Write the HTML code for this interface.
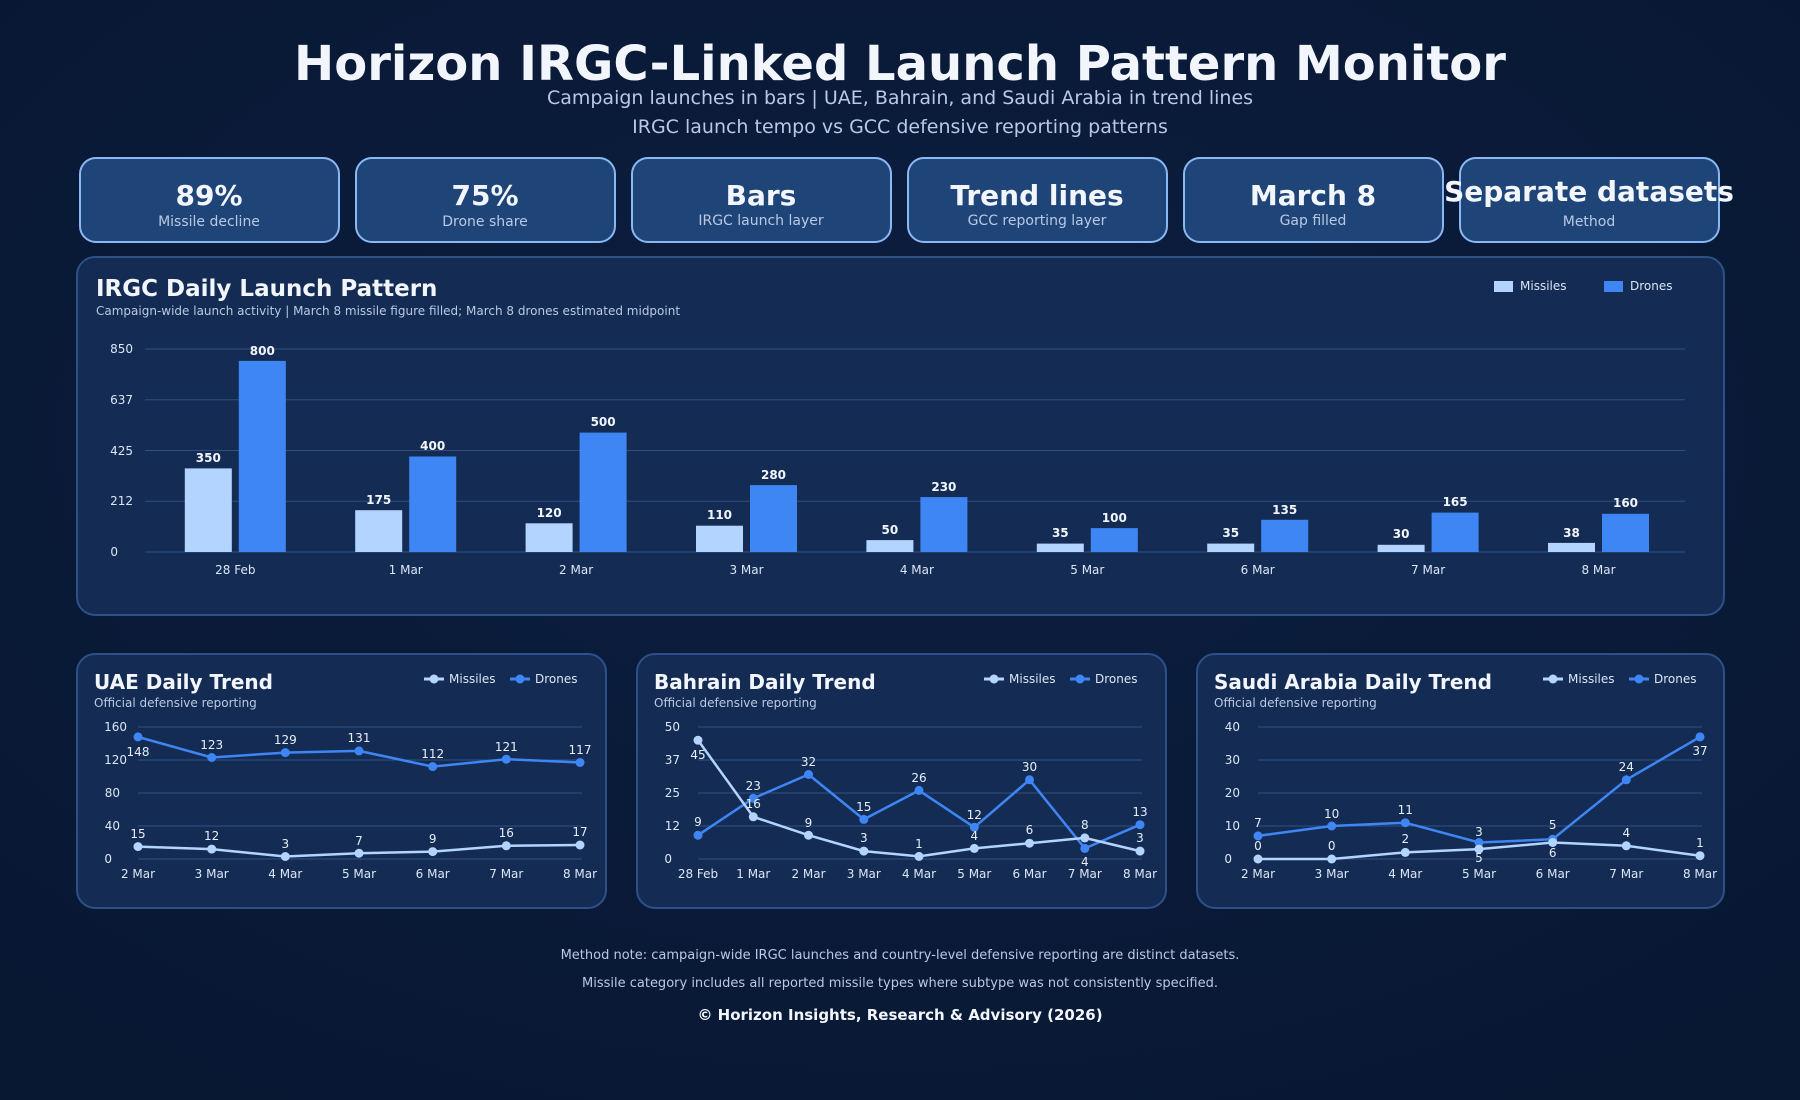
<!DOCTYPE html>
<html><head><meta charset="utf-8"><style>
html,body{margin:0;padding:0;background:#0a1a38;}
svg{display:block;font-family:"DejaVu Sans","Liberation Sans",sans-serif;}
</style></head><body>
<svg width="1800" height="1100" viewBox="0 0 1800 1100" xmlns="http://www.w3.org/2000/svg">
<defs><radialGradient id="bg" cx="50%" cy="40%" r="70%"><stop offset="0" stop-color="#0c1e40"/><stop offset="1" stop-color="#081833"/></radialGradient></defs>
<rect width="1800" height="1100" fill="url(#bg)"/>
<text x="900" y="80" text-anchor="middle" font-size="48" font-weight="bold" fill="#f2f6fc">Horizon IRGC-Linked Launch Pattern Monitor</text>
<text x="900" y="104" text-anchor="middle" font-size="19" fill="#b9c9e4">Campaign launches in bars | UAE, Bahrain, and Saudi Arabia in trend lines</text>
<text x="900" y="133" text-anchor="middle" font-size="19" fill="#b9c9e4">IRGC launch tempo vs GCC defensive reporting patterns</text>

<g stroke="#8ab8f5" stroke-width="2" fill="#1f4478">
<rect x="80" y="158" width="259" height="84" rx="16"/>
<rect x="356" y="158" width="259" height="84" rx="16"/>
<rect x="632" y="158" width="259" height="84" rx="16"/>
<rect x="908" y="158" width="259" height="84" rx="16"/>
<rect x="1184" y="158" width="259" height="84" rx="16"/>
<rect x="1460" y="158" width="259" height="84" rx="16"/>
</g>
<g text-anchor="middle" font-weight="bold" font-size="28" fill="#f2f6fc">
<text x="209" y="205">89%</text><text x="485" y="205">75%</text><text x="761" y="205">Bars</text><text x="1037" y="205">Trend lines</text><text x="1313" y="205">March 8</text><text x="1589" y="201">Separate datasets</text>
</g>
<g text-anchor="middle" font-size="14" fill="#b9c9e4">
<text x="209" y="226">Missile decline</text><text x="485" y="226">Drone share</text><text x="761" y="225">IRGC launch layer</text><text x="1037" y="225">GCC reporting layer</text><text x="1313" y="225">Gap filled</text><text x="1589" y="226">Method</text>
</g>

<rect x="77" y="257" width="1647" height="358" rx="18" fill="#142c53" stroke="#2e5088" stroke-width="2"/>
<text x="96" y="296" font-size="23" font-weight="bold" fill="#f2f6fc">IRGC Daily Launch Pattern</text>
<text x="96" y="315" font-size="12" fill="#b9c9e4">Campaign-wide launch activity | March 8 missile figure filled; March 8 drones estimated midpoint</text>
<rect x="1494" y="281" width="19" height="11" fill="#b3d4ff"/><text x="1520" y="290" font-size="12" fill="#dbe6f6">Missiles</text>
<rect x="1604" y="281" width="19" height="11" fill="#3f86f5"/><text x="1630" y="290" font-size="12" fill="#dbe6f6">Drones</text>
<g stroke="#2f4f80" stroke-width="1"><line x1="145" y1="349" x2="1685" y2="349"/><line x1="145" y1="399.8" x2="1685" y2="399.8"/><line x1="145" y1="450.5" x2="1685" y2="450.5"/><line x1="145" y1="501.3" x2="1685" y2="501.3"/><line x1="145" y1="552" x2="1685" y2="552"/></g>
<g font-size="12" fill="#dbe6f6" text-anchor="end"><text x="133" y="353">850</text><text x="133" y="404">637</text><text x="133" y="455">425</text><text x="133" y="505">212</text><text x="118" y="556">0</text></g>
<g fill="#b3d4ff">
<rect x="184.8" y="468.4" width="47" height="83.6"/><rect x="355.2" y="510.2" width="47" height="41.8"/><rect x="525.6" y="523.3" width="47" height="28.7"/><rect x="696" y="525.7" width="47" height="26.3"/><rect x="866.4" y="540.1" width="47" height="11.9"/><rect x="1036.8" y="543.6" width="47" height="8.4"/><rect x="1207.2" y="543.6" width="47" height="8.4"/><rect x="1377.6" y="544.8" width="47" height="7.2"/><rect x="1548" y="542.9" width="47" height="9.1"/>
</g>
<g fill="#3f86f5">
<rect x="238.8" y="360.9" width="47" height="191.1"/><rect x="409.2" y="456.5" width="47" height="95.5"/><rect x="579.6" y="432.6" width="47" height="119.4"/><rect x="750" y="485.1" width="47" height="66.9"/><rect x="920.4" y="497.1" width="47" height="54.9"/><rect x="1090.8" y="528.1" width="47" height="23.9"/><rect x="1261.2" y="519.8" width="47" height="32.2"/><rect x="1431.6" y="512.6" width="47" height="39.4"/><rect x="1602" y="513.8" width="47" height="38.2"/>
</g>
<g font-size="12" font-weight="bold" fill="#f2f6fc" text-anchor="middle">
<text x="208.3" y="462">350</text><text x="262.3" y="355">800</text>
<text x="378.7" y="504">175</text><text x="432.7" y="450">400</text>
<text x="549.1" y="517">120</text><text x="603.1" y="426">500</text>
<text x="719.5" y="519">110</text><text x="773.5" y="479">280</text>
<text x="889.9" y="534">50</text><text x="943.9" y="491">230</text>
<text x="1060.3" y="537">35</text><text x="1114.3" y="522">100</text>
<text x="1230.7" y="537">35</text><text x="1284.7" y="514">135</text>
<text x="1401.1" y="538">30</text><text x="1455.1" y="506">165</text>
<text x="1571.5" y="537">38</text><text x="1625.5" y="507">160</text>
</g>
<g font-size="12" fill="#dbe6f6" text-anchor="middle">
<text x="235.3" y="574">28 Feb</text><text x="405.7" y="574">1 Mar</text><text x="576.1" y="574">2 Mar</text><text x="746.5" y="574">3 Mar</text><text x="916.9" y="574">4 Mar</text><text x="1087.3" y="574">5 Mar</text><text x="1257.7" y="574">6 Mar</text><text x="1428.1" y="574">7 Mar</text><text x="1598.5" y="574">8 Mar</text>
</g>

<g fill="#142c53" stroke="#2e5088" stroke-width="2">
<rect x="77" y="654" width="529" height="254" rx="18"/><rect x="637" y="654" width="529" height="254" rx="18"/><rect x="1197" y="654" width="527" height="254" rx="18"/>
</g>
<g font-size="20" font-weight="bold" fill="#f2f6fc"><text x="94" y="689">UAE Daily Trend</text><text x="654" y="689">Bahrain Daily Trend</text><text x="1214" y="689">Saudi Arabia Daily Trend</text></g>
<g font-size="12" fill="#b9c9e4"><text x="94" y="707">Official defensive reporting</text><text x="654" y="707">Official defensive reporting</text><text x="1214" y="707">Official defensive reporting</text></g>
<g font-size="12" fill="#dbe6f6">
<line x1="424" y1="679" x2="444" y2="679" stroke="#b3d4ff" stroke-width="3"/><circle cx="434" cy="679" r="4.5" fill="#b3d4ff"/><text x="449" y="683">Missiles</text>
<line x1="510" y1="679" x2="530" y2="679" stroke="#3f86f5" stroke-width="3"/><circle cx="520" cy="679" r="4.5" fill="#3f86f5"/><text x="535" y="683">Drones</text>
<line x1="984" y1="679" x2="1004" y2="679" stroke="#b3d4ff" stroke-width="3"/><circle cx="994" cy="679" r="4.5" fill="#b3d4ff"/><text x="1009" y="683">Missiles</text>
<line x1="1070" y1="679" x2="1090" y2="679" stroke="#3f86f5" stroke-width="3"/><circle cx="1080" cy="679" r="4.5" fill="#3f86f5"/><text x="1095" y="683">Drones</text>
<line x1="1543" y1="679" x2="1563" y2="679" stroke="#b3d4ff" stroke-width="3"/><circle cx="1553" cy="679" r="4.5" fill="#b3d4ff"/><text x="1568" y="683">Missiles</text>
<line x1="1629" y1="679" x2="1649" y2="679" stroke="#3f86f5" stroke-width="3"/><circle cx="1639" cy="679" r="4.5" fill="#3f86f5"/><text x="1654" y="683">Drones</text>
</g>
<g stroke="#2f4f80" stroke-width="1">
<line x1="138" y1="727" x2="582" y2="727"/><line x1="138" y1="760" x2="582" y2="760"/><line x1="138" y1="793" x2="582" y2="793"/><line x1="138" y1="826" x2="582" y2="826"/><line x1="138" y1="859" x2="582" y2="859"/>
<line x1="698" y1="727" x2="1142" y2="727"/><line x1="698" y1="760" x2="1142" y2="760"/><line x1="698" y1="793" x2="1142" y2="793"/><line x1="698" y1="826" x2="1142" y2="826"/><line x1="698" y1="859" x2="1142" y2="859"/>
<line x1="1258" y1="727" x2="1702" y2="727"/><line x1="1258" y1="760" x2="1702" y2="760"/><line x1="1258" y1="793" x2="1702" y2="793"/><line x1="1258" y1="826" x2="1702" y2="826"/><line x1="1258" y1="859" x2="1702" y2="859"/>
</g>
<g font-size="12" fill="#dbe6f6" text-anchor="end">
<text x="127" y="731">160</text><text x="127" y="764">120</text><text x="120" y="797">80</text><text x="120" y="830">40</text><text x="112" y="863">0</text>
<text x="680" y="731">50</text><text x="680" y="764">37</text><text x="680" y="797">25</text><text x="680" y="830">12</text><text x="672" y="863">0</text>
<text x="1240" y="731">40</text><text x="1240" y="764">30</text><text x="1240" y="797">20</text><text x="1240" y="830">10</text><text x="1232" y="863">0</text>
</g>
<g font-size="12" fill="#dbe6f6" text-anchor="middle">
<text x="138" y="878">2 Mar</text><text x="211.7" y="878">3 Mar</text><text x="285.3" y="878">4 Mar</text><text x="359" y="878">5 Mar</text><text x="432.7" y="878">6 Mar</text><text x="506.3" y="878">7 Mar</text><text x="580" y="878">8 Mar</text>
<text x="698" y="878">28 Feb</text><text x="753.3" y="878">1 Mar</text><text x="808.5" y="878">2 Mar</text><text x="863.8" y="878">3 Mar</text><text x="919" y="878">4 Mar</text><text x="974.3" y="878">5 Mar</text><text x="1029.5" y="878">6 Mar</text><text x="1084.8" y="878">7 Mar</text><text x="1140" y="878">8 Mar</text>
<text x="1258" y="878">2 Mar</text><text x="1331.7" y="878">3 Mar</text><text x="1405.3" y="878">4 Mar</text><text x="1479" y="878">5 Mar</text><text x="1552.7" y="878">6 Mar</text><text x="1626.3" y="878">7 Mar</text><text x="1700" y="878">8 Mar</text>
</g>
<g fill="none" stroke-width="2.5">
<polyline stroke="#3f86f5" points="138,736.9 211.7,757.5 285.3,752.6 359,750.9 432.7,766.6 506.3,759.2 580,762.5"/>
<polyline stroke="#b3d4ff" points="138,846.6 211.7,849.1 285.3,856.5 359,853.2 432.7,851.6 506.3,845.8 580,845"/>
<polyline stroke="#3f86f5" points="698,835.2 753.3,798.3 808.5,774.5 863.8,819.4 919,790.4 974.3,827.3 1029.5,779.8 1084.8,848.4 1140,824.7"/>
<polyline stroke="#b3d4ff" points="698,740.2 753.3,816.8 808.5,835.2 863.8,851.1 919,856.4 974.3,848.4 1029.5,843.2 1084.8,837.9 1140,851.1"/>
<polyline stroke="#3f86f5" points="1258,835.9 1331.7,826 1405.3,822.7 1479,842.5 1552.7,839.2 1626.3,779.8 1700,736.9"/>
<polyline stroke="#b3d4ff" points="1258,859 1331.7,859 1405.3,852.4 1479,849.1 1552.7,842.5 1626.3,845.8 1700,855.7"/>
</g>
<g fill="#3f86f5">
<circle cx="138" cy="736.9" r="4.5"/><circle cx="211.7" cy="757.5" r="4.5"/><circle cx="285.3" cy="752.6" r="4.5"/><circle cx="359" cy="750.9" r="4.5"/><circle cx="432.7" cy="766.6" r="4.5"/><circle cx="506.3" cy="759.2" r="4.5"/><circle cx="580" cy="762.5" r="4.5"/>
<circle cx="698" cy="835.2" r="4.5"/><circle cx="753.3" cy="798.3" r="4.5"/><circle cx="808.5" cy="774.5" r="4.5"/><circle cx="863.8" cy="819.4" r="4.5"/><circle cx="919" cy="790.4" r="4.5"/><circle cx="974.3" cy="827.3" r="4.5"/><circle cx="1029.5" cy="779.8" r="4.5"/><circle cx="1084.8" cy="848.4" r="4.5"/><circle cx="1140" cy="824.7" r="4.5"/>
<circle cx="1258" cy="835.9" r="4.5"/><circle cx="1331.7" cy="826" r="4.5"/><circle cx="1405.3" cy="822.7" r="4.5"/><circle cx="1479" cy="842.5" r="4.5"/><circle cx="1552.7" cy="839.2" r="4.5"/><circle cx="1626.3" cy="779.8" r="4.5"/><circle cx="1700" cy="736.9" r="4.5"/>
</g>
<g fill="#b3d4ff">
<circle cx="138" cy="846.6" r="4.5"/><circle cx="211.7" cy="849.1" r="4.5"/><circle cx="285.3" cy="856.5" r="4.5"/><circle cx="359" cy="853.2" r="4.5"/><circle cx="432.7" cy="851.6" r="4.5"/><circle cx="506.3" cy="845.8" r="4.5"/><circle cx="580" cy="845" r="4.5"/>
<circle cx="698" cy="740.2" r="4.5"/><circle cx="753.3" cy="816.8" r="4.5"/><circle cx="808.5" cy="835.2" r="4.5"/><circle cx="863.8" cy="851.1" r="4.5"/><circle cx="919" cy="856.4" r="4.5"/><circle cx="974.3" cy="848.4" r="4.5"/><circle cx="1029.5" cy="843.2" r="4.5"/><circle cx="1084.8" cy="837.9" r="4.5"/><circle cx="1140" cy="851.1" r="4.5"/>
<circle cx="1258" cy="859" r="4.5"/><circle cx="1331.7" cy="859" r="4.5"/><circle cx="1405.3" cy="852.4" r="4.5"/><circle cx="1479" cy="849.1" r="4.5"/><circle cx="1552.7" cy="842.5" r="4.5"/><circle cx="1626.3" cy="845.8" r="4.5"/><circle cx="1700" cy="855.7" r="4.5"/>
</g>
<g font-size="12" fill="#e6eefa" text-anchor="middle">
<text x="138" y="756">148</text><text x="211.7" y="749">123</text><text x="285.3" y="744">129</text><text x="359" y="742">131</text><text x="432.7" y="758">112</text><text x="506.3" y="751">121</text><text x="580" y="754">117</text>
<text x="138" y="838">15</text><text x="211.7" y="840">12</text><text x="285.3" y="848">3</text><text x="359" y="845">7</text><text x="432.7" y="843">9</text><text x="506.3" y="837">16</text><text x="580" y="836">17</text>
<text x="698" y="826">9</text><text x="753.3" y="790">23</text><text x="808.5" y="766">32</text><text x="863.8" y="811">15</text><text x="919" y="782">26</text><text x="974.3" y="819">12</text><text x="1029.5" y="771">30</text><text x="1084.8" y="866">4</text><text x="1140" y="816">13</text>
<text x="698" y="759">45</text><text x="753.3" y="808">16</text><text x="808.5" y="827">9</text><text x="863.8" y="842">3</text><text x="919" y="848">1</text><text x="974.3" y="840">4</text><text x="1029.5" y="834">6</text><text x="1084.8" y="829">8</text><text x="1140" y="842">3</text>
<text x="1258" y="827">7</text><text x="1331.7" y="818">10</text><text x="1405.3" y="814">11</text><text x="1479" y="862">5</text><text x="1552.7" y="857">6</text><text x="1626.3" y="771">24</text><text x="1700" y="755">37</text>
<text x="1258" y="850">0</text><text x="1331.7" y="850">0</text><text x="1405.3" y="843">2</text><text x="1479" y="836">3</text><text x="1552.7" y="829">5</text><text x="1626.3" y="837">4</text><text x="1700" y="847">1</text>
</g>

<text x="900" y="959" text-anchor="middle" font-size="13" fill="#b9c9e4">Method note: campaign-wide IRGC launches and country-level defensive reporting are distinct datasets.</text>
<text x="900" y="987" text-anchor="middle" font-size="13" fill="#b9c9e4">Missile category includes all reported missile types where subtype was not consistently specified.</text>
<text x="900" y="1020" text-anchor="middle" font-size="15" font-weight="bold" fill="#f2f6fc">© Horizon Insights, Research &amp; Advisory (2026)</text>
</svg>
</body></html>
